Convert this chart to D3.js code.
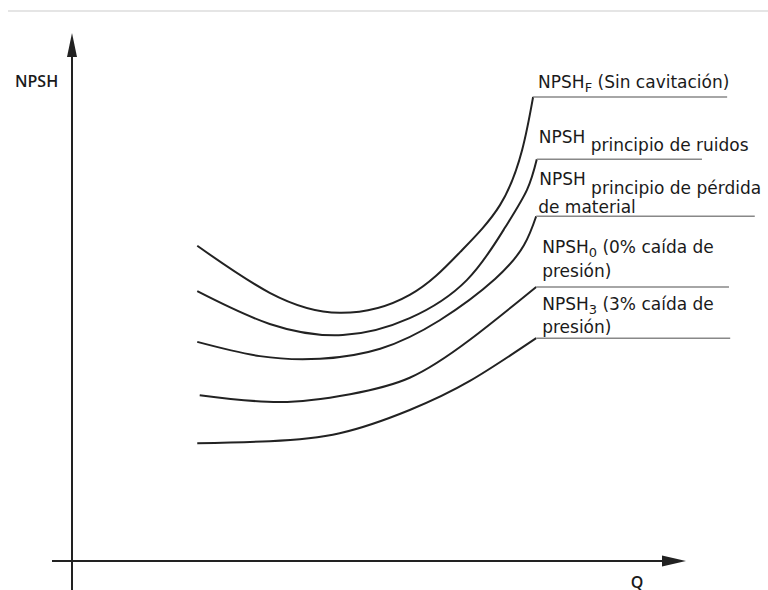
<!DOCTYPE html>
<html><head><meta charset="utf-8">
<script src="https://cdn.jsdelivr.net/npm/d3@7"></script>
<style>
body{margin:0;background:#fff}
svg{display:block}
text{font-family:"DejaVu Sans",sans-serif;fill:#1a1a1a}
text.ax{font-family:"Open Sans",sans-serif}
</style>
</head><body>
<svg id="chart" width="768" height="590"></svg>
<script>
// ---- data (arbitrary units: Q 0..100, NPSH 0..100) ----
const qF       = [20.4,32.2,43.6,55.0,63.2,69.7,73.3,75.1];
const npshF    = [59.7,50.8,47.0,50.4,58.5,67.4,77.8,87.9];
const qNoise   = [20.4,32.2,44.1,55.0,64.3,70.5,74.1,75.7];
const npshNoise= [51.1,44.9,42.8,46.0,53.2,63.1,70.3,76.1];
const qLoss    = [20.4,30.6,40.4,50.2,59.9,68.9,73.6,75.6];
const npshLoss = [41.5,38.8,38.3,40.2,45.6,53.4,59.8,65.3];
const q0       = [20.8,33.9,45.3,55.0,64.8,75.6];
const npsh0    = [31.4,30.1,31.6,34.7,41.9,51.9];
const q3       = [20.4,32.2,43.6,55.0,64.8,75.6];
const npsh3    = [22.3,22.7,24.2,28.6,34.1,42.2];
const labelLineEnd = [106.7,102.6,111.2,107.0,107.2];
const yAxisLabel = "NPSH";
const xAxisLabel = "Q";
const seriesQ = [qF,qNoise,qLoss,q0,q3];
const seriesN = [npshF,npshNoise,npshLoss,npsh0,npsh3];

// ---- scales ----
const x = d3.scaleLinear().domain([0,100]).range([72,686]);
const y = d3.scaleLinear().domain([0,100]).range([561,33]);

const svg = d3.select("#chart");

// top rule
svg.append("line").attr("x1",8).attr("x2",768).attr("y1",11).attr("y2",11)
  .attr("stroke","#dcdcdc").attr("stroke-width",1.5);

const ink = "#222";
// y axis
svg.append("line").attr("x1",x(0)).attr("x2",x(0)).attr("y1",590).attr("y2",y(100)+20)
  .attr("stroke",ink).attr("stroke-width",2);
svg.append("path").attr("d",`M${x(0)},${y(100)} L${x(0)-5},${y(100)+24} L${x(0)+5},${y(100)+24}Z`)
  .attr("fill",ink);
// x axis
svg.append("line").attr("x1",52).attr("x2",x(100)-20).attr("y1",y(0)).attr("y2",y(0))
  .attr("stroke",ink).attr("stroke-width",2);
svg.append("path").attr("d",`M${x(100)},${y(0)} L${x(100)-24},${y(0)-5.5} L${x(100)-24},${y(0)+5.5}Z`)
  .attr("fill",ink);

svg.append("text").attr("class","ax").attr("x",15).attr("y",87).attr("font-size",16).attr("font-weight",600)
  .text(yAxisLabel);
svg.append("text").attr("class","ax").attr("x",637).attr("y",588).attr("font-size",16).attr("font-weight",600)
  .attr("text-anchor","middle").text(xAxisLabel);

// curves
const line = d3.line().x(d=>x(d[0])).y(d=>y(d[1])).curve(d3.curveNatural);
seriesQ.forEach((qs,i)=>{
  const pts = qs.map((q,j)=>[q,seriesN[i][j]]);
  svg.append("path").attr("d",line(pts)).attr("fill","none")
    .attr("stroke",ink).attr("stroke-width",2);
  const last = pts[pts.length-1];
  svg.append("line").attr("x1",x(last[0])).attr("x2",x(labelLineEnd[i]))
    .attr("y1",y(last[1])).attr("y2",y(last[1]))
    .attr("stroke","#888").attr("stroke-width",1.5);
});

function endPt(i){const qs=seriesQ[i];return [x(qs[qs.length-1]), y(seriesN[i][qs.length-1])];}
const fs = 17, sub = 13;

// label 1
{ const [ex,ey]=endPt(0);
  const t=svg.append("text").attr("x",ex+5).attr("y",ey-9).attr("font-size",fs);
  t.append("tspan").text("NPSH");
  t.append("tspan").attr("font-size",sub).attr("dy",4).text("F");
  t.append("tspan").attr("dy",-4).text(" (Sin cavitación)");
}
// label 2
{ const [ex,ey]=endPt(1);
  const t=svg.append("text").attr("x",ex+2).attr("y",ey-16).attr("font-size",fs);
  t.append("tspan").text("NPSH");
  t.append("tspan").attr("dy",8).text(" principio de ruidos");
}
// label 3
{ const [ex,ey]=endPt(2);
  const t=svg.append("text").attr("x",ex+3).attr("y",ey-31).attr("font-size",fs);
  t.append("tspan").text("NPSH");
  t.append("tspan").attr("dy",9).text(" principio de pérdida");
  svg.append("text").attr("x",ex+2).attr("y",ey-3).attr("font-size",fs).text("de material");
}
// label 4
{ const [ex,ey]=endPt(3);
  const t=svg.append("text").attr("x",ex+6).attr("y",ey-34).attr("font-size",fs);
  t.append("tspan").text("NPSH");
  t.append("tspan").attr("font-size",sub).attr("dy",4).text("0");
  t.append("tspan").attr("dy",-4).text(" (0% caída de");
  svg.append("text").attr("x",ex+6).attr("y",ey-10).attr("font-size",fs).text("presión)");
}
// label 5
{ const [ex,ey]=endPt(4);
  const t=svg.append("text").attr("x",ex+6).attr("y",ey-28).attr("font-size",fs);
  t.append("tspan").text("NPSH");
  t.append("tspan").attr("font-size",sub).attr("dy",4).text("3");
  t.append("tspan").attr("dy",-4).text(" (3% caída de");
  svg.append("text").attr("x",ex+6).attr("y",ey-5).attr("font-size",fs).text("presión)");
}
</script>
</body></html>
